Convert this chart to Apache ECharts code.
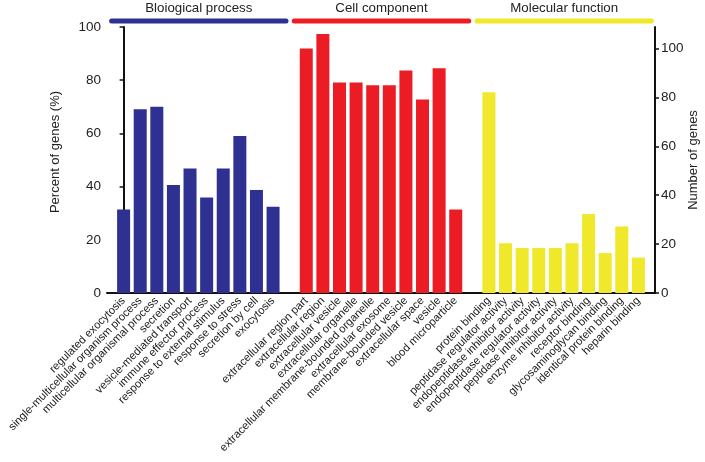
<!DOCTYPE html>
<html>
<head>
<meta charset="utf-8">
<script src="https://cdn.jsdelivr.net/npm/echarts@6/dist/echarts.min.js"></script>
<style>
  html, body { margin: 0; padding: 0; background: #fff; }
  #main { width: 705px; height: 462px; }
</style>
</head>
<body>
<div id="main"></div>
<script>
// GO 分类数据
var bpNames = ['regulated exocytosis', 'single-multicellular organism process', 'multicellular organismal process',
  'secretion', 'vesicle-mediated transport', 'immune effector process', 'response to external stimulus',
  'response to stress', 'secretion by cell', 'exocytosis'];
var bpValues = [31.4, 69.1, 70.0, 40.6, 46.8, 35.9, 46.8, 59.0, 38.7, 32.4];

var ccNames = ['extracellular region part', 'extracellular region', 'extracellular vesicle', 'extracellular organelle',
  'extracellular membrane-bounded organelle', 'extracellular exosome', 'membrane-bounded vesicle',
  'extracellular space', 'vesicle', 'blood microparticle'];
var ccValues = [91.9, 97.4, 79.1, 79.1, 78.1, 78.1, 83.6, 72.7, 84.5, 31.4];

var mfNames = ['protein binding', 'peptidase regulator activity', 'endopeptidase inhibitor activity',
  'endopeptidase regulator activity', 'peptidase inhibitor activity', 'enzyme inhibitor activity',
  'receptor binding', 'glycosaminoglycan binding', 'identical protein binding', 'heparin binding'];
var mfValues = [75.5, 18.7, 16.9, 16.9, 16.9, 18.7, 29.7, 15.0, 25.0, 13.3];

var groupTitles = ['Bloiogical process', 'Cell component', 'Molecular function'];
var groupColors = ['#2e3192', '#ec1c24', '#f0e82a'];
var rightMax = 108.8;
var fontFam = '"Liberation Sans", Arial, sans-serif';

var myChart = echarts.init(document.getElementById('main'));

// 三组之间各空一格
var groups = [
  { names: bpNames, values: bpValues, start: 0 },
  { names: ccNames, values: ccValues, start: 11 },
  { names: mfNames, values: mfValues, start: 22 }
];
var allLabels = [];
var series = [];
groups.forEach(function (g, gi) {
  var data = [];
  g.names.forEach(function (n, i) {
    allLabels[g.start + i] = n;
    data.push([g.start + i, g.values[i]]);
  });
  series.push({
    name: groupTitles[gi],
    type: 'bar',
    data: data,
    barWidth: 13,
    barGap: '-100%',
    itemStyle: { color: groupColors[gi] },
    silent: true
  });
});

var option = {
  animation: false,
  grid: { left: 107, right: 50, top: 27, bottom: 169, containLabel: false, outerBoundsMode: 'none' },
  xAxis: {
    type: 'value',
    min: -1,
    max: 32,
    interval: 1,
    splitLine: { show: false },
    axisTick: { show: false },
    axisLine: { lineStyle: { color: '#111', width: 2 } },
    axisLabel: {
      rotate: 45,
      margin: 6,
      fontSize: 11.2,
      fontFamily: fontFam,
      color: '#1a1a1a',
      formatter: function (v) { return allLabels[v] || ''; }
    }
  },
  yAxis: [
    {
      type: 'value',
      min: 0,
      max: 100,
      interval: 20,
      name: 'Percent of genes (%)',
      nameLocation: 'middle',
      nameGap: 45,
      nameTextStyle: { fontSize: 13, color: '#222', fontFamily: fontFam, padding: [0, 0, 0, 16] },
      splitLine: { show: false },
      axisLine: { show: true, lineStyle: { color: '#111', width: 2 } },
      axisTick: { show: true, length: 4, lineStyle: { color: '#111', width: 1.5 } },
      axisLabel: { fontSize: 13.5, color: '#222', margin: 6, fontFamily: fontFam }
    },
    {
      type: 'value',
      min: 0,
      max: rightMax,
      interval: 20,
      position: 'right',
      name: 'Number of genes',
      nameLocation: 'middle',
      nameGap: 32,
      nameMoveOverlap: false,
      nameTextStyle: { fontSize: 13, color: '#222', fontFamily: fontFam },
      splitLine: { show: false },
      axisLine: { show: true, lineStyle: { color: '#111', width: 2 } },
      axisTick: { show: true, length: 4, lineStyle: { color: '#111', width: 1.5 } },
      axisLabel: {
        fontSize: 13.5, color: '#222', margin: 6, showMaxLabel: false,
        fontFamily: fontFam,
        formatter: function (v) { return v % 20 === 0 ? v : ''; }
      }
    }
  ],
  series: series
};
myChart.setOption(option);

// 顶部分组标题与色条
var graphics = [];
groups.forEach(function (g, gi) {
  var x0 = myChart.convertToPixel({ xAxisIndex: 0 }, g.start) - 12;
  var x1 = myChart.convertToPixel({ xAxisIndex: 0 }, g.start + g.names.length - 1) + 13;
  graphics.push({
    type: 'line',
    shape: { x1: x0, y1: 21, x2: x1, y2: 21 },
    style: { stroke: groupColors[gi], lineWidth: 5, lineCap: 'round' }
  });
  graphics.push({
    type: 'text',
    x: (x0 + x1) / 2,
    y: 8,
    style: {
      text: groupTitles[gi],
      fill: '#222',
      font: '13.3px "Liberation Sans", Arial, sans-serif',
      textAlign: 'center',
      textVerticalAlign: 'middle'
    }
  });
});
myChart.setOption({ graphic: graphics });
</script>
</body>
</html>
